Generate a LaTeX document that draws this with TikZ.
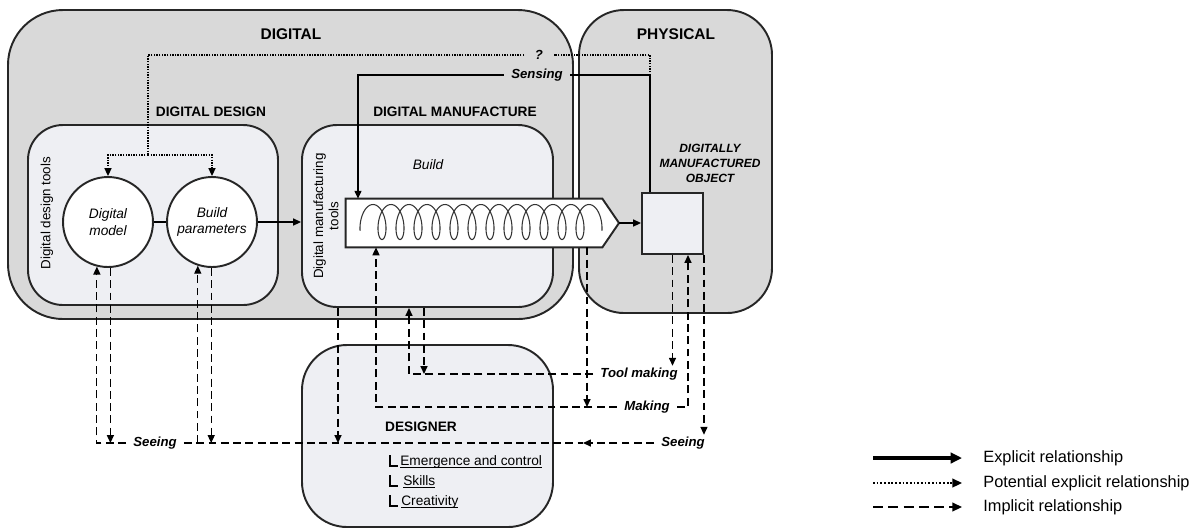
\documentclass[tikz,border=0pt]{standalone}
\usepackage{fontspec}
\setmainfont{Liberation Sans}
\usepackage{xcolor}
\usepackage{tikz}
\usetikzlibrary{positioning,fit,arrows.meta}

\definecolor{regiongray}{HTML}{D9D9D9}
\definecolor{boxfill}{HTML}{EEEFF3}

\newcommand{\undl}[1]{\setbox0\hbox{#1}\rlap{\rule[-1.3pt]{\wd0}{0.5pt}}\box0}

\begin{document}
\begin{tikzpicture}[x=0.02cm, y=-0.02cm,
    >={Triangle[length=4.5pt,width=4pt]},
    region/.style={draw=black!85, line width=1.1pt, fill=regiongray, inner sep=0pt},
    area/.style={draw=black!85, line width=1.1pt, fill=boxfill, inner sep=0pt},
    circ/.style={circle, draw=black!85, line width=1.1pt, fill=white, minimum size=1.8cm,
        inner sep=0pt, align=center, font=\fontsize{7.8}{9.5}\selectfont\itshape},
    head/.style={font=\fontsize{8.8}{10}\selectfont\bfseries},
    subhead/.style={font=\fontsize{7.8}{9}\selectfont\bfseries},
    side/.style={rotate=90, align=center, font=\fontsize{7.6}{8.6}\selectfont},
    tag/.style={font=\fontsize{7.5}{9}\selectfont\bfseries\itshape, inner xsep=4pt, inner ysep=1pt},
    item/.style={anchor=west, inner xsep=0pt, font=\fontsize{7.8}{9}\selectfont},
    legend/.style={anchor=west, inner xsep=0pt, font=\fontsize{9.3}{11}\selectfont},
    expl/.style={line width=0.8pt},
    pot/.style={line width=0.8pt, dash pattern=on 0.8pt off 0.7pt},
    impl/.style={line width=0.7pt, dash pattern=on 4.5pt off 2.5pt}
]
    \useasboundingbox (0,0) rectangle (1194,529);

    % Regions
    \node[region, rounded corners=1.1cm, fit={(8,10) (573,319)}] (digital) {};
    \node[region, rounded corners=0.9cm, fit={(579,10) (772,313)}] (physical) {};
    \node[area, rounded corners=0.7cm, fit={(28,125) (278,305)}] (ddesign) {};
    \node[area, rounded corners=0.7cm, fit={(302,125) (553,307)}] (dman) {};
    \node[area, rounded corners=0.9cm, fit={(302,345) (553,527)}] (designer) {};

    \node[head] (digitallab) at (291,34) {DIGITAL};
    \node[head] (physicallab) at (676,34) {PHYSICAL};
    \node[subhead] (ddlab) at (211,112) {DIGITAL DESIGN};
    \node[subhead] (dmlab) at (455,112) {DIGITAL MANUFACTURE};
    \node[side] (ddtools) at (47,213) {Digital design tools};
    \node[side] (dmtools) at (326,216) {Digital manufacturing\\tools};

    % Design
    \node[circ] (model) at (108,222) {Digital\\model};
    \node[circ] (param) at (212,222) {Build\\parameters};

    % Build
    \coordinate (tip) at (619,223);
    \node[fit={(346,199) (602,247)}, inner sep=0pt] (build) {};
    \draw[line width=1.1pt, draw=black!85, fill=white] (build.north west) -- (build.north east)
        -- (tip) -- (build.south east) -- (build.south west) -- cycle;
    \draw[line width=0.6pt, black!80] plot[domain=60:4620, samples=900]
        ({364 + \x/20 - 8*sin(\x)}, {222 + 17.5*cos(\x)});
    \node[font=\fontsize{7.8}{9}\selectfont\itshape] (buildlab) at (428,165) {Build};

    % Object
    \node[area, fit={(642,193) (703,254)}] (obj) {};
    \node[font=\fontsize{6.8}{8.5}\selectfont\bfseries\itshape, align=center] (objlab) at (710,163)
        {DIGITALLY\\MANUFACTURED\\OBJECT};

    % Designer
    \node[subhead] (desglab) at (421,427) {DESIGNER};
    \node[item] (emerg) at (400,462) {\undl{Emergence and control}};
    \node[item] (skills) at (403,482) {\undl{Skills}};
    \node[item] (creat) at (401,502) {\undl{Creativity}};
    \foreach \y in {462,482,502}
        \draw[line width=0.6pt] (390,\y-7) |- (398,\y+4);

    % Explicit
    \draw[expl] (model) -- (param);
    \draw[expl,->] (param) -- (param -| dman.west);
    \draw[expl,->] (tip) -- (tip -| obj.west);

    \coordinate (senscorner) at (650,75);
    \coordinate (sensx) at (358,0);
    \node[tag] (sensing) at (537,75) {Sensing};
    \draw[expl] (senscorner |- obj.north) -- (senscorner) -- (sensing.east);
    \draw[expl,->] (sensing.west) -| (sensx |- build.north);

    % Potential
    \node[tag, inner xsep=6pt] (qmark) at (539,55) {?};
    \coordinate (potsplit) at (148,155);
    \draw[pot] (senscorner) |- (qmark.east);
    \draw[pot] (qmark.west) -| (potsplit);
    \draw[pot,->] (potsplit) -| (model.north);
    \draw[pot,->] (potsplit) -| (param.north);

    % Implicit
    \node[tag] (seeL) at (155,443) {Seeing};
    \node[tag] (seeR) at (683,443) {Seeing};
    \node[tag] (toolm) at (639,374) {Tool making};
    \node[tag] (making) at (647,407) {Making};

    \draw[impl,->] (seeL.west) -| (model.-104);
    \draw[impl,->] (model.-87) -- (model.-87 |- seeL.west);
    \draw[impl,->] (param.-108 |- seeL.east) -- (param.-108);
    \draw[impl,->] (param.-91) -- (param.-91 |- seeL.east);

    \coordinate (seeman) at (338,443);
    \coordinate (seemid) at (583,443);
    \draw[impl,->] (seeman |- dman.south) -- (seeman);
    \draw[impl] (seeL.east) -- (seemid);
    \draw[impl,->] (seeR.west) -- (seemid);
    \draw[impl,->] (obj.south east) -- (obj.south east |- seeR.north);

    \coordinate (tmup) at (409,0);
    \coordinate (tmdown) at (424,0);
    \draw[impl,->] (toolm.west) -| (tmup |- dman.south);
    \draw[impl,->] (tmdown |- dman.south) -- (tmdown |- toolm.west);
    \draw[impl,->] (obj.south) -- (obj.south |- toolm.north);

    \coordinate (mkup) at (376,0);
    \coordinate (mkdown) at (587,0);
    \coordinate (mkobj) at (688,0);
    \draw[impl,->] (making.west) -| (mkup |- build.south);
    \draw[impl,->] (mkdown |- build.south) -- (mkdown |- making.west);
    \draw[impl,->] (making.east) -| (mkobj |- obj.south);

    % Legend
    \node[legend] (lgexpl) at (983,458) {Explicit relationship};
    \node[legend] (lgpot) at (983,483) {Potential explicit relationship};
    \node[legend] (lgimpl) at (983,507) {Implicit relationship};
    \coordinate (lstart) at (873,0);
    \coordinate (lend) at (962,0);
    \draw[line width=2.3pt, -{Triangle[length=6.5pt,width=6pt]}] (lstart |- lgexpl.west) -- (lend |- lgexpl.west);
    \draw[line width=1pt, dash pattern=on 1pt off 1.1pt, -{Triangle[length=5.5pt,width=5pt]}]
        (lstart |- lgpot.west) -- (lend |- lgpot.west);
    \draw[line width=0.9pt, dash pattern=on 5.7pt off 3pt, -{Triangle[length=5.5pt,width=5pt]}]
        (lstart |- lgimpl.west) -- (lend |- lgimpl.west);
\end{tikzpicture}
\end{document}
